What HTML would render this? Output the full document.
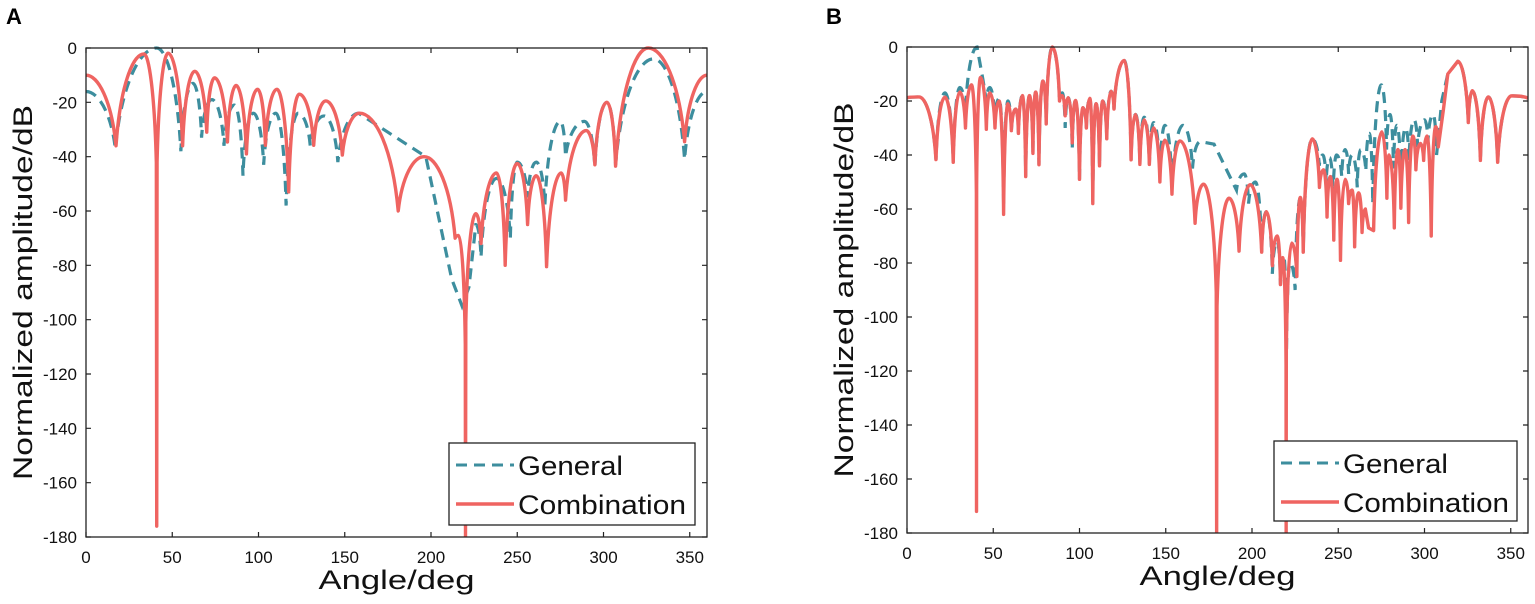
<!DOCTYPE html>
<html><head><meta charset="utf-8">
<style>
html,body{margin:0;padding:0;background:#fff;}
svg{display:block;font-family:"Liberation Sans",Arial,sans-serif;}
</style></head>
<body>
<svg id="chart" width="1535" height="604" viewBox="0 0 1535 604" xmlns="http://www.w3.org/2000/svg">
<text x="6" y="24" font-size="22" font-weight="bold">A</text>
<text x="826" y="24" font-size="22" font-weight="bold">B</text>
</svg>
<script>
const xTicks = [0,50,100,150,200,250,300,350];
const yTicks = [0,-20,-40,-60,-80,-100,-120,-140,-160,-180];
const seriesNames = ["General","Combination"];

const aGenAngle = [0,17,41,55,62,67,73,80,86,91,97,103,110,116,123,130,138,146,158,175,197,212,218,222,226,229,238,246,250,256,261,266,275,278,289,295,302,307,329,347,360];
const aGenDb    = [-16,-37,0,-38,-13,-33,-19,-36,-21,-47,-24,-43,-24,-58,-24,-36,-25,-42,-24,-31,-40,-85,-95,-88,-65,-77,-48,-70,-42,-55,-42,-58,-27,-40,-27,-44,-20,-43,-4,-41,-16];
const aComAngle = [0,17.4,33.6,41,47.6,56,63,70,74.5,82,87,93,99.5,104,110.7,117.5,123.6,132,139,148.6,158.6,181,196,214,216,220,226,229,238,243,250,256,261,267,275.5,278,290,295,302,307,326,347,360];
const aComDb    = [-10,-36,-2.2,-176,-1.9,-36,-8.6,-31,-11,-34.6,-13.8,-39,-15.2,-35.8,-15.2,-53,-17,-35.8,-19.5,-39.4,-24,-60,-40,-70,-69,-180,-61,-72,-46,-80,-42.5,-65,-47,-80.5,-46,-56,-30.4,-43,-20,-43.5,0,-34.5,-10];

const bComAngle = [0,7,16.8,22,26.8,30.6,33.9,37.4,40.3,42.6,46,48,51,53.4,56,58.5,60.5,63,64.6,66.9,68.8,71,73,74.6,76.5,78.8,80.7,84.2,88.4,90,91.7,93.5,95.8,97.7,100,102,104,106,107.7,109.6,111.6,113.5,115.8,118.3,120,126,129.9,132.5,135,137.5,140.5,143,146.6,149.5,153.6,158.2,167,171.9,179.5,186.7,192.5,199,205.6,208.3,211.8,214.6,216.5,217.8,219.8,223,226,228,229.7,234.9,239.1,241.5,243.5,245.4,247.4,249.3,251.3,254,256,258,259.5,261.8,263.8,265.7,267.6,270.5,275.3,278.2,279.5,282.5,284.6,286.3,288.7,290.8,293.3,295,297.6,299.5,301.4,303.9,306.5,308,311,313.5,319.3,325.4,327.7,332.4,337,342.4,350.5,360];
const bComDb    = [-18.8,-18.5,-41.7,-18.6,-42.7,-16.7,-30,-14,-172,-11.3,-30.5,-17,-30,-20,-62,-21,-31,-23,-32,-18,-48,-18,-39.4,-16.7,-43.6,-12.6,-28.5,0,-20,-18,-25.5,-18.8,-35.5,-19.8,-49,-22.5,-30,-19,-58,-21,-44,-20,-34,-16.4,-23,-5,-41.8,-25,-43.5,-27,-43.5,-30,-50,-34.5,-54.5,-34.8,-65.3,-50.8,-180,-56,-75.6,-51,-76,-61,-81,-70,-88,-78,-180,-72.6,-85,-55.7,-76,-34,-52,-45.5,-63,-48,-71.5,-49,-79,-49,-58,-53,-74,-54,-68.7,-60,-67,-68,-31.4,-56,-40,-67,-38,-59.7,-38,-65,-33,-45.5,-35.7,-42,-33,-70,-29.5,-37,-23,-10,-5.3,-28,-16.2,-42,-18.5,-42.7,-18.1,-19];
const bGenAngle = [0,7,16.8,22,26.8,30.6,33.9,40.6,44,46,48,51,53.4,56,58.5,60.5,63,64.6,66.9,68.8,71,73,74.6,76.5,78.8,80.7,84.2,88.4,90,91.7,93.5,95.8,97.7,100,102,104,106,107.7,109.6,111.6,113.5,115.8,118.3,120,126,129.9,132.5,135,137.5,140.5,143,146.6,149.5,153.6,160,165.5,170,178,191,195.5,198,202,205.6,208.3,211.8,214.6,216.5,218.5,220,222,225,228,229.7,234.9,239,241,243,245,247,249,252,254,256,258,261,263,266,268,270,275,278,280,282,284,286.3,289,291,294,296,300,302,305,307,310,313.5,319.3,325.4,327.7,332.4,337,342.4,350.5,360];
const bGenDb    = [-18.8,-18.5,-41.7,-17,-42.7,-15,-24,0,-12,-20,-15,-28,-19,-58,-20,-31,-23,-32,-18,-48,-18,-39.4,-16.7,-43.6,-12.6,-28.5,0,-20,-17,-30,-18.8,-38,-19.8,-49,-22.5,-30,-19,-58,-21,-44,-20,-34,-16.4,-23,-5,-41.8,-25,-43.5,-26,-43.5,-28,-48,-29,-52,-29,-45,-35,-36,-53,-47,-58,-50,-76,-61,-84,-72,-88,-78,-112,-80,-90,-56,-76,-34,-44,-40,-50,-41,-55,-40,-48,-38,-47,-40,-52,-38,-46,-32,-58,-14,-38,-25,-45,-29,-50,-30,-42,-27,-37,-27,-35,-25,-40,-20,-10,-5.3,-28,-16.2,-42,-18.5,-42.7,-18.1,-19];

const NS = "http://www.w3.org/2000/svg";
const svg = document.getElementById('chart');
function mk(tag, attrs, parent){
  const e = document.createElementNS(NS, tag);
  for (const k in attrs) e.setAttribute(k, attrs[k]);
  (parent||svg).appendChild(e);
  return e;
}

function buildPath(angles, dbs, sx, sy){
  const pts = angles.map((a,i)=>[sx(a), sy(dbs[i]), dbs[i]]);
  const n = pts.length;
  const isPeak = i => {
    const l = i>0 ? pts[i-1][2] : -Infinity, r = i<n-1 ? pts[i+1][2] : -Infinity;
    return pts[i][2] >= l && pts[i][2] >= r;
  };
  const isNull = i => {
    const l = i>0 ? pts[i-1][2] : Infinity, r = i<n-1 ? pts[i+1][2] : Infinity;
    return pts[i][2] <= l && pts[i][2] <= r;
  };
  const cap = sy(-40) - sy(0);
  let d = "M" + pts[0][0].toFixed(2) + "," + pts[0][1].toFixed(2);
  for (let i=1;i<n;i++){
    const [x0,y0] = pts[i-1], [x1,y1] = pts[i];
    const dx = x1-x0;
    if (isPeak(i-1) && isNull(i)) {
      let ty = y1, tx = x1, deep = false;
      if (y1 - y0 > cap*1.1) { ty = y0 + cap; tx = x1 - 0.03*dx; deep = true; }
      const ddx = tx-x0;
      d += " C" + (x0+0.4*ddx).toFixed(2)+","+y0.toFixed(2)+" "+(tx-0.15*ddx).toFixed(2)+","+(y0+0.35*(ty-y0)).toFixed(2)+" "+tx.toFixed(2)+","+ty.toFixed(2);
      if (deep) d += " L" + x1.toFixed(2)+","+y1.toFixed(2);
    } else if (isNull(i-1) && isPeak(i)) {
      let sxp = x0, syp = y0;
      if (y0 - y1 > cap*1.1) { syp = y1 + cap; sxp = x0 + 0.03*dx; d += " L" + sxp.toFixed(2)+","+syp.toFixed(2); }
      const ddx = x1-sxp;
      d += " C" + (sxp+0.15*ddx).toFixed(2)+","+(syp+0.65*(y1-syp)).toFixed(2)+" "+(x1-0.4*ddx).toFixed(2)+","+y1.toFixed(2)+" "+x1.toFixed(2)+","+y1.toFixed(2);
    } else {
      d += " L" + x1.toFixed(2)+","+y1.toFixed(2);
    }
  }
  return d;
}

function panel(cfg){
  const {id, L, R, T, B, gA, gD, cA, cD, ytx, leg} = cfg;
  const g = mk('g', {});
  
  
  const sx = a => L + (a/360)*(R-L);
  const sy = v => T + (-v/180)*(B-T);
  const clip = mk('clipPath', {id: id+'-clip'}, g);
  mk('rect', {x:L, y:T-4, width:R-L, height:B-T+4}, clip);

  const tickG = mk('g', {}, g);
  
  
  xTicks.forEach(t=>{
    const x = sx(t);
    const tk = mk('path', {d:`M${x},${B}v-5M${x},${T}v5`, stroke:'#222', 'stroke-width':1.2}, tickG);
    
    
    const lb = mk('text', {x:x, y:B+26, 'font-size':17, 'text-anchor':'middle', fill:'#111'}, tickG);
    lb.textContent = t;
    
    
  });
  yTicks.forEach(t=>{
    const y = sy(t);
    const tk = mk('path', {d:`M${L},${y}h5M${R},${y}h-5`, stroke:'#222', 'stroke-width':1.2}, tickG);
    
    
    const lb = mk('text', {x:L-9, y:y+6, 'font-size':17, 'text-anchor':'end', fill:'#111'}, tickG);
    lb.textContent = t;
    
    
  });

  const gen = mk('path', {d:buildPath(gA, gD, sx, sy), fill:'none', stroke:'#3D8E9E', 'stroke-width':3.2, 'stroke-dasharray':'11 7', 'clip-path':`url(#${id}-clip)`}, g);
  
  
  const com = mk('path', {d:buildPath(cA, cD, sx, sy), fill:'none', stroke:'#EF6461', 'stroke-width':3.4, 'stroke-linejoin':'round', 'clip-path':`url(#${id}-clip)`}, g);
  
  

  const frame = mk('rect', {x:L, y:T, width:R-L, height:B-T, fill:'none', stroke:'#222', 'stroke-width':1.3}, g);
  
  

  const xt = mk('text', {x:(L+R)/2, y:B+52, 'font-size':27, 'text-anchor':'middle', textLength:156, lengthAdjust:'spacingAndGlyphs', fill:'#111'}, g);
  xt.textContent = 'Angle/deg';
  
  
  const yt = mk('text', {x:0, y:0, 'font-size':27, 'text-anchor':'middle', textLength:375, lengthAdjust:'spacingAndGlyphs', fill:'#111', transform:`translate(${ytx},${(T+B)/2}) rotate(-90)`}, g);
  yt.textContent = 'Normalized amplitude/dB';
  
  

  const lg = mk('g', {}, g);
  
  
  mk('rect', {x:leg.x, y:leg.y, width:leg.w, height:leg.h, fill:'#fff', stroke:'#222', 'stroke-width':1.3}, lg);
  const e1 = mk('path', {d:`M${leg.x+7},${leg.y+22}h58`, stroke:'#3D8E9E', 'stroke-width':3, 'stroke-dasharray':'11 7'}, lg);
  
  
  const t1 = mk('text', {x:leg.x+69, y:leg.y+32, 'font-size':27, textLength:105, lengthAdjust:'spacingAndGlyphs', fill:'#111'}, lg);
  t1.textContent = seriesNames[0];
  
  
  const e2 = mk('path', {d:`M${leg.x+7},${leg.y+61}h58`, stroke:'#EF6461', 'stroke-width':3.4}, lg);
  
  
  const t2 = mk('text', {x:leg.x+69, y:leg.y+71, 'font-size':27, textLength:leg.tw, lengthAdjust:'spacingAndGlyphs', fill:'#111'}, lg);
  t2.textContent = seriesNames[1];
  
  
}

panel({id:'panel-a', L:86, R:707, T:48, B:537, gA:aGenAngle, gD:aGenDb, cA:aComAngle, cD:aComDb, ytx:32, leg:{x:449, y:443, w:246, h:82, tw:168}});
panel({id:'panel-b', L:907, R:1528, T:47, B:533, gA:bGenAngle, gD:bGenDb, cA:bComAngle, cD:bComDb, ytx:853, leg:{x:1274, y:441, w:243, h:80, tw:166}});
</script>
</body></html>
